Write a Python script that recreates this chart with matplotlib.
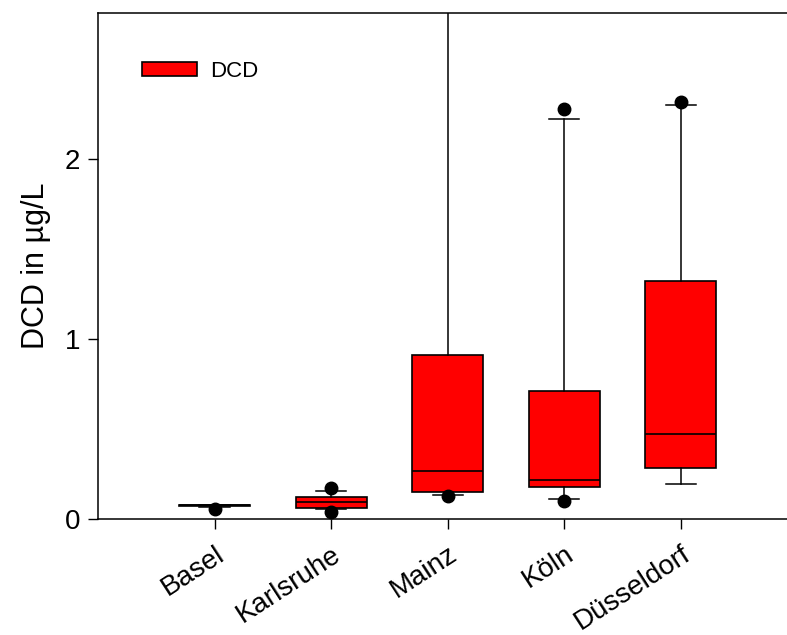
import matplotlib
matplotlib.use('Agg')
import matplotlib.pyplot as plt
from matplotlib.patches import Patch

plt.rcParams['font.family'] = ['Liberation Sans', 'DejaVu Sans']

# DCD concentration (ug/L) per sampling site
sites = ['Basel', 'Karlsruhe', 'Mainz', 'Köln', 'Düsseldorf']
q1 = [0.070, 0.063, 0.148, 0.178, 0.281]
med = [0.075, 0.094, 0.268, 0.218, 0.470]
q3 = [0.080, 0.120, 0.911, 0.713, 1.324]
whislo = [0.065, 0.054, 0.135, 0.111, 0.194]
whishi = [0.080, 0.155, 3.200, 2.224, 2.300]
fliers = [[0.055], [0.037, 0.170], [0.130], [0.102, 2.276], [2.315]]

stats = []
for i in range(len(sites)):
    stats.append({'label': sites[i], 'q1': q1[i], 'med': med[i], 'q3': q3[i],
                  'whislo': whislo[i], 'whishi': whishi[i], 'fliers': fliers[i]})

fig = plt.figure(figsize=(7.87, 6.35), dpi=100)
ax = fig.add_axes([0.1245, 0.1827, 0.8755, 0.7968])

ax.bxp(stats, positions=range(1, len(sites) + 1), widths=0.61, patch_artist=True,
       boxprops=dict(facecolor='#ff0000', edgecolor='black', linewidth=1.2),
       medianprops=dict(color='black', linewidth=1.2),
       whiskerprops=dict(color='black', linewidth=1.1),
       capprops=dict(color='black', linewidth=1.1),
       capwidths=0.26,
       flierprops=dict(marker='o', markerfacecolor='black', markeredgecolor='black',
                       markersize=9))

ax.set_xlim(0, 5.91)
ax.set_ylim(0, 2.81)
ax.set_yticks([0, 1, 2])
ax.set_yticklabels(['0', '1', '2'])
ax.set_xticks(range(1, len(sites) + 1))
ax.set_xticklabels(sites, rotation=33, ha='right', va='top', rotation_mode='anchor')
ax.tick_params(axis='both', direction='out', length=7, width=1, labelsize=20, pad=6)
ax.tick_params(axis='x', pad=9)
ax.set_ylabel('DCD in µg/L', fontsize=22, labelpad=10)

ax.spines['right'].set_visible(False)
for s in ['top', 'left', 'bottom']:
    ax.spines[s].set_linewidth(1.1)

handle = Patch(facecolor='#ff0000', edgecolor='black', linewidth=1.2, label='DCD')
ax.legend(handles=[handle], loc='center left', bbox_to_anchor=(0.035, 0.885), frameon=False,
          fontsize=16, handlelength=2.45, handleheight=0.6, handletextpad=0.6)

fig.savefig('out.png', dpi=100)
